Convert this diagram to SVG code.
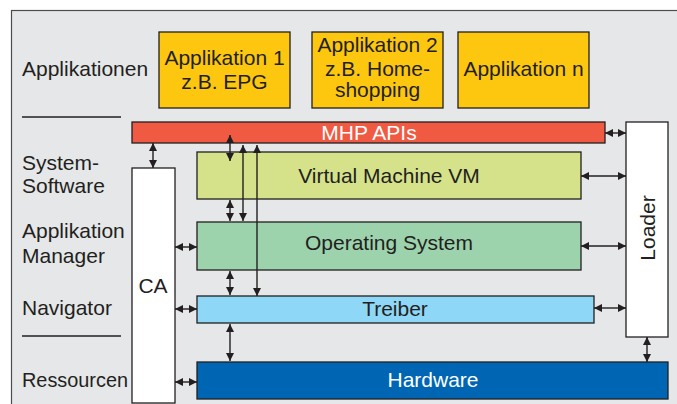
<svg xmlns="http://www.w3.org/2000/svg" width="677" height="404" viewBox="0 0 677 404">
<defs>
<marker id="ah" viewBox="0 0 10 10" refX="10" refY="5" markerWidth="8" markerHeight="9" markerUnits="userSpaceOnUse" orient="auto-start-reverse">
<path d="M0,0 L10,5 L0,10 z" fill="#231f20"/>
</marker>
<style>
text{font-family:"Liberation Sans",Arial,sans-serif;font-size:21px;fill:#231f20}
.c{text-anchor:middle}
.w{fill:#ffffff}
.box{stroke:#231f20;stroke-width:1.3}
.app{fill:#fdc70f}
.con line{stroke:#231f20;stroke-width:1.4;fill:none}
.d{marker-start:url(#ah);marker-end:url(#ah)}
</style>
</defs>
<rect x="11.5" y="10.5" width="700" height="400" fill="#e6e7e8" stroke="#4d4d4d" stroke-width="1.2"/>
<g id="labels">
<text x="22" y="76">Applikationen</text>
<line x1="22" y1="117" x2="121" y2="117" stroke="#231f20" stroke-width="1.3"/>
<text x="22" y="170">System-</text>
<text x="22" y="193">Software</text>
<text x="22" y="238">Applikation</text>
<text x="22" y="263">Manager</text>
<text x="22" y="315">Navigator</text>
<line x1="22" y1="336" x2="121" y2="336" stroke="#231f20" stroke-width="1.3"/>
<text x="22" y="387" textLength="106" lengthAdjust="spacingAndGlyphs">Ressourcen</text>
</g>
<g id="app1"><rect class="box app" x="159" y="32" width="131" height="76"/><text class="c" x="224.5" y="65">Applikation 1</text><text class="c" x="224.5" y="89">z.B. EPG</text></g>
<g id="app2"><rect class="box app" x="312" y="32" width="131" height="76"/><text class="c" x="377.5" y="52">Applikation 2</text><text class="c" x="377.5" y="76">z.B. Home-</text><text class="c" x="377.5" y="97">shopping</text></g>
<g id="appn"><rect class="box app" x="458" y="32" width="131" height="76"/><text class="c" x="523.5" y="76">Applikation n</text></g>
<g id="mhp"><rect class="box" x="132" y="122" width="473" height="21" fill="#f15a42"/><text class="c w" x="369" y="140">MHP APIs</text></g>
<g id="vm"><rect class="box" x="197" y="152" width="384" height="47" fill="#d5e28a"/><text class="c" x="389" y="183">Virtual Machine VM</text></g>
<g id="os"><rect class="box" x="197" y="222" width="384" height="48" fill="#9cd3ad"/><text class="c" x="389" y="250">Operating System</text></g>
<g id="treiber"><rect class="box" x="197" y="296" width="397" height="27" fill="#8ed7f7"/><text class="c" x="395" y="316">Treiber</text></g>
<g id="hardware"><rect class="box" x="197" y="362" width="471" height="37" fill="#0066b3"/><text class="c w" x="433" y="387">Hardware</text></g>
<g id="ca"><rect class="box" x="132" y="168" width="43" height="235" fill="#ffffff"/><text class="c" x="153" y="293">CA</text></g>
<g id="loader"><rect class="box" x="626" y="122" width="42" height="215" fill="#ffffff"/><text class="c" x="655" y="228" transform="rotate(-90 655 228)">Loader</text></g>
<g id="connectors" class="con">
<line class="d" x1="153" y1="143" x2="153" y2="168"/>
<line class="d" x1="230" y1="135" x2="230" y2="161"/>
<line class="d" x1="243" y1="145" x2="243" y2="221"/>
<line class="d" x1="257" y1="145" x2="257" y2="296"/>
<line class="d" x1="230" y1="200" x2="230" y2="221"/>
<line class="d" x1="230" y1="271" x2="230" y2="295"/>
<line class="d" x1="230" y1="324" x2="230" y2="361"/>
<line class="d" x1="175" y1="247" x2="197" y2="247"/>
<line class="d" x1="175" y1="309" x2="197" y2="309"/>
<line class="d" x1="175" y1="382" x2="197" y2="382"/>
<line class="d" x1="605" y1="133" x2="626" y2="133"/>
<line class="d" x1="581" y1="176" x2="626" y2="176"/>
<line class="d" x1="581" y1="246" x2="626" y2="246"/>
<line class="d" x1="594" y1="308" x2="626" y2="308"/>
<line class="d" x1="647" y1="337" x2="647" y2="362"/>
</g>
</svg>
